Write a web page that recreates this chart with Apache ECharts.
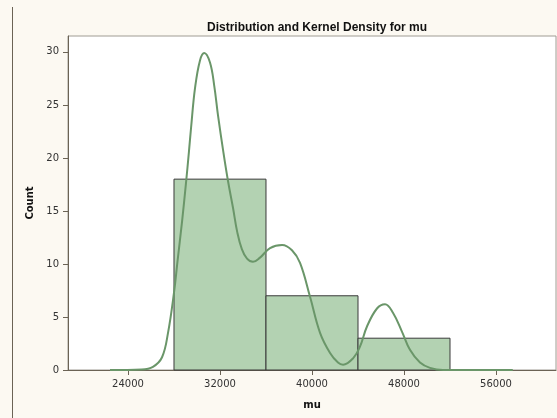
<!DOCTYPE html>
<html>
<head>
<meta charset="utf-8">
<script src="https://cdn.jsdelivr.net/npm/echarts@6/dist/echarts.min.js"></script>
<style>
  html, body { margin: 0; padding: 0; background: #fcf9f2; }
  #chart { width: 557px; height: 418px; }
</style>
</head>
<body>
<div id="chart"></div>
<script>
// histogram bins
const binStarts = [28000, 36000, 44000]
const binEnds = [36000, 44000, 52000]
const binCounts = [18, 7, 3]

// kernel density curve, scaled to counts
const densityX = [22435, 25190, 26170, 26960, 27480, 28000, 28300, 28700, 29040, 29300,
  29480, 29830, 30260, 30630, 31130, 31500, 31830, 32300, 32700, 33130, 33500, 33900,
  34350, 34870, 35480, 36350, 37400, 38260, 38960, 39830, 40700, 41570, 42260, 42700,
  43570, 44170, 44780, 45650, 46350, 47040, 47830, 48520, 49390, 50260, 51390, 57460]
const densityY = [0, 0.05, 0.3, 1.2, 3.5, 7.3, 10.2, 14.0, 17.6, 20.6,
  22.8, 26.6, 29.2, 29.9, 29.0, 26.8, 24.0, 20.5, 17.8, 15.3, 13.0, 11.4,
  10.5, 10.2, 10.6, 11.5, 11.8, 11.3, 10.1, 6.9, 3.5, 1.6, 0.7, 0.5,
  1.1, 2.2, 4.1, 5.8, 6.2, 5.4, 3.6, 1.9, 0.7, 0.2, 0, 0]

const xTicks = [24000, 32000, 40000, 48000, 56000]
const yTicks = [0, 5, 10, 15, 20, 25, 30]

const font = 'DejaVu Sans'
const chart = echarts.init(document.getElementById('chart'))

const option = {
  backgroundColor: '#fcf9f2',
  animation: false,
  title: {
    text: 'Distribution and Kernel Density for mu',
    left: 312,
    top: 17,
    textAlign: 'center',
    textStyle: { fontFamily: 'Liberation Sans', fontSize: 12, fontWeight: 'bold', color: '#111' }
  },
  grid: {
    left: 68, right: 1, top: 36, bottom: 48,
    show: true,
    backgroundColor: '#ffffff',
    borderColor: '#a09c94',
    borderWidth: 1
  },
  graphic: [{
    type: 'line',
    shape: { x1: 12.5, y1: 7, x2: 12.5, y2: 418 },
    style: { stroke: '#6b6355', lineWidth: 1 }
  }],
  xAxis: {
    type: 'value',
    min: 18783,
    max: 61217,
    name: 'mu',
    nameLocation: 'middle',
    nameGap: 30,
    nameTextStyle: { fontFamily: font, fontSize: 10, fontWeight: 'bold', color: '#111' },
    axisLine: { onZero: false, lineStyle: { color: '#6b6355' } },
    axisTick: { show: true, length: 5, customValues: xTicks, lineStyle: { color: '#6b6355' } },
    axisLabel: {
      customValues: xTicks, margin: 9, fontFamily: font, fontSize: 10, color: '#333',
      formatter: v => String(v)
    },
    splitLine: { show: false }
  },
  yAxis: {
    type: 'value',
    min: 0,
    max: 31.5,
    name: 'Count',
    nameLocation: 'middle',
    nameGap: 33,
    nameTextStyle: { fontFamily: font, fontSize: 10, fontWeight: 'bold', color: '#111' },
    axisLine: { show: true, lineStyle: { color: '#6b6355' } },
    axisTick: { show: true, length: 5, customValues: yTicks, lineStyle: { color: '#6b6355' } },
    axisLabel: { customValues: yTicks, margin: 9, fontFamily: font, fontSize: 10, color: '#333' },
    splitLine: { show: false }
  },
  series: [
    {
      type: 'custom',
      data: binStarts.map((s, i) => [s, binEnds[i], binCounts[i]]),
      encode: { x: [0, 1], y: 2 },
      renderItem: function (params, api) {
        const topLeft = api.coord([api.value(0), api.value(2)])
        const bottomRight = api.coord([api.value(1), 0])
        return {
          type: 'rect',
          shape: {
            x: topLeft[0],
            y: topLeft[1],
            width: bottomRight[0] - topLeft[0],
            height: bottomRight[1] - topLeft[1]
          },
          style: { fill: '#b3d2b2', stroke: '#3a3a3a', lineWidth: 1 }
        }
      },
      z: 2
    },
    {
      type: 'line',
      data: densityX.map((x, i) => [x, densityY[i]]),
      smooth: 0.4,
      showSymbol: false,
      lineStyle: { color: '#6a9669', width: 2 },
      z: 3
    }
  ]
}

chart.setOption(option)
</script>
</body>
</html>
